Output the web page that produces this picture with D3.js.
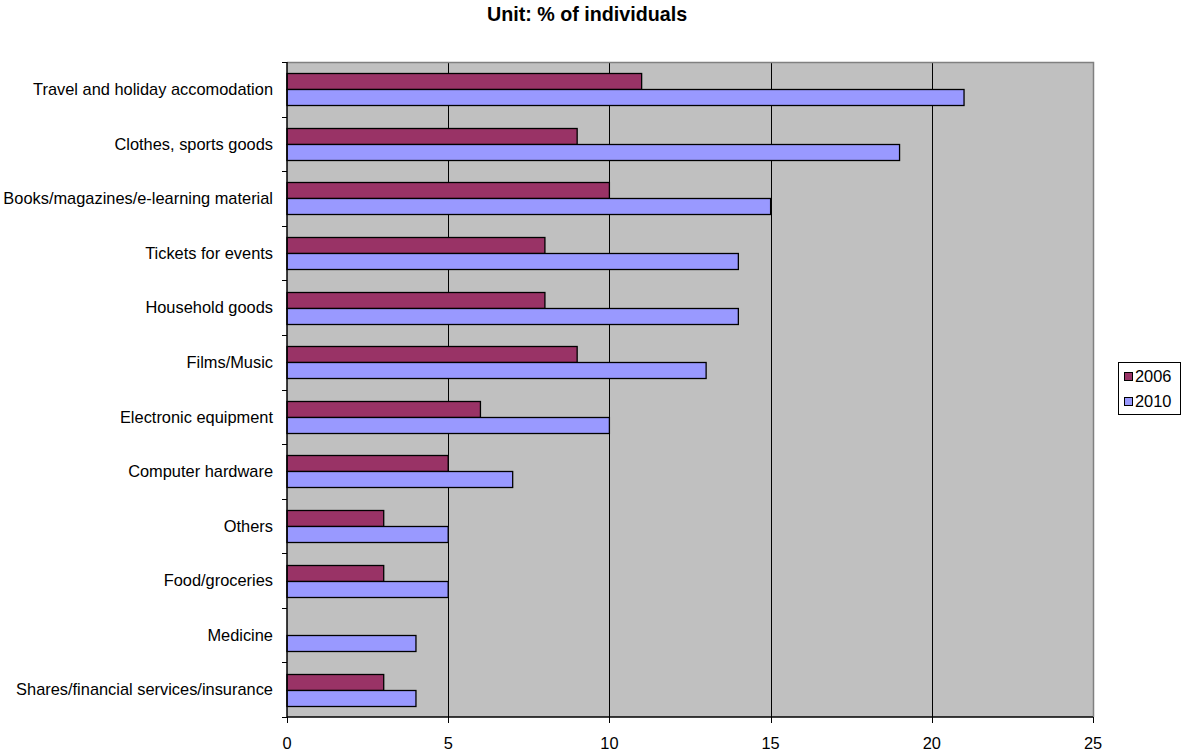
<!DOCTYPE html>
<html>
<head>
<meta charset="utf-8">
<script src="https://cdn.jsdelivr.net/npm/d3@7/dist/d3.min.js"></script>
<style>
  html, body { margin: 0; padding: 0; background: #fff; }
  svg { display: block; font-family: "Liberation Sans", Arial, sans-serif; }
</style>
</head>
<body>
<svg id="chart" width="1181" height="753"></svg>
<script>
const categories = [
  "Travel and holiday accomodation",
  "Clothes, sports goods",
  "Books/magazines/e-learning material",
  "Tickets for events",
  "Household goods",
  "Films/Music",
  "Electronic equipment",
  "Computer hardware",
  "Others",
  "Food/groceries",
  "Medicine",
  "Shares/financial services/insurance"
];
const seriesNames = ["2006", "2010"];
const values2006 = [11, 9, 10, 8, 8, 9, 6, 5, 3, 3, null, 3];
const values2010 = [21, 19, 15, 14, 14, 13, 10, 7, 5, 5, 4, 4];
const xTicks = [0, 5, 10, 15, 20, 25];
const colors = ["#993366", "#9999FF"];
const title = "Unit: % of individuals";

const svg = d3.select("#chart");
const plot = { left: 287, right: 1093, top: 62, bottom: 717 };
const fs = 16.4;

const x = d3.scaleLinear().domain([0, 25]).range([plot.left, plot.right]);
const y = d3.scaleBand().domain(categories).range([plot.top, plot.bottom]).paddingInner(0).paddingOuter(0);
const barH = 16;

// plot background
svg.append("rect")
  .attr("x", plot.left).attr("y", plot.top)
  .attr("width", plot.right - plot.left).attr("height", plot.bottom - plot.top)
  .attr("fill", "#C0C0C0");

// gridlines
svg.append("g").selectAll("line")
  .data(xTicks.filter(t => t > 0 && t < 25))
  .join("line")
  .attr("x1", d => Math.round(x(d)) + 0.5).attr("x2", d => Math.round(x(d)) + 0.5)
  .attr("y1", plot.top).attr("y2", plot.bottom)
  .attr("stroke", "#000").attr("stroke-width", 1);

// border top/right
svg.append("path")
  .attr("d", `M${plot.left},${plot.top + 0.5}H${plot.right + 0.5}V${plot.bottom}`)
  .attr("fill", "none").attr("stroke", "#808080").attr("stroke-width", 1.5);

// bars
const rows = categories.map((c, i) => ({ c, v: [values2006[i], values2010[i]] }));
const g = svg.append("g");
rows.forEach(r => {
  const cy = y(r.c) + y.bandwidth() / 2;
  r.v.forEach((v, s) => {
    if (v == null) return;
    g.append("rect")
      .attr("x", x(0))
      .attr("y", Math.round(cy - barH + s * barH) + 0.5)
      .attr("width", x(v) - x(0))
      .attr("height", barH)
      .attr("fill", colors[s])
      .attr("stroke", "#000")
      .attr("stroke-width", 1.3);
  });
});

// y axis
const yAxisG = svg.append("g").attr("transform", `translate(${plot.left},0)`);
yAxisG.append("line").attr("x1", 0).attr("x2", 0).attr("y1", plot.top).attr("y2", plot.bottom)
  .attr("stroke", "#000").attr("stroke-width", 1.5);
const bounds = categories.map(c => y(c)).concat([plot.bottom]);
yAxisG.selectAll("line.tick").data(bounds).join("line").attr("class", "tick")
  .attr("x1", -5).attr("x2", 0)
  .attr("y1", d => Math.round(d) + 0.5).attr("y2", d => Math.round(d) + 0.5)
  .attr("stroke", "#000").attr("stroke-width", 1);
yAxisG.selectAll("text").data(categories).join("text")
  .attr("x", -14)
  .attr("y", d => y(d) + y.bandwidth() / 2)
  .attr("dy", "0.35em")
  .attr("text-anchor", "end")
  .attr("font-size", fs)
  .attr("fill", "#000")
  .text(d => d);

// x axis
const xAxisG = svg.append("g").attr("transform", `translate(0,${plot.bottom})`);
xAxisG.append("line").attr("x1", plot.left).attr("x2", plot.right).attr("y1", 0).attr("y2", 0)
  .attr("stroke", "#000").attr("stroke-width", 1.5);
xAxisG.selectAll("line.tick").data(xTicks).join("line").attr("class", "tick")
  .attr("x1", d => Math.round(x(d)) + 0.5).attr("x2", d => Math.round(x(d)) + 0.5)
  .attr("y1", 0).attr("y2", 6)
  .attr("stroke", "#000");
xAxisG.selectAll("text").data(xTicks).join("text")
  .attr("x", d => x(d))
  .attr("y", 32)
  .attr("text-anchor", "middle")
  .attr("font-size", fs)
  .text(d => d);

// title
svg.append("text")
  .attr("x", 587).attr("y", 21)
  .attr("text-anchor", "middle")
  .attr("font-size", 19.7)
  .attr("font-weight", "bold")
  .text(title);

// legend
const lg = svg.append("g");
lg.append("rect").attr("x", 1118.5).attr("y", 362.5).attr("width", 62).attr("height", 52)
  .attr("fill", "#fff").attr("stroke", "#000").attr("stroke-width", 1);
seriesNames.forEach((n, i) => {
  const yy = 372 + i * 25;
  lg.append("rect").attr("x", 1124.5).attr("y", yy + 0.5).attr("width", 8).attr("height", 8)
    .attr("fill", colors[i]).attr("stroke", "#000").attr("stroke-width", 1);
  lg.append("text").attr("x", 1135).attr("y", yy + 4.5).attr("dy", "0.35em")
    .attr("font-size", fs).text(n);
});
</script>
</body>
</html>
